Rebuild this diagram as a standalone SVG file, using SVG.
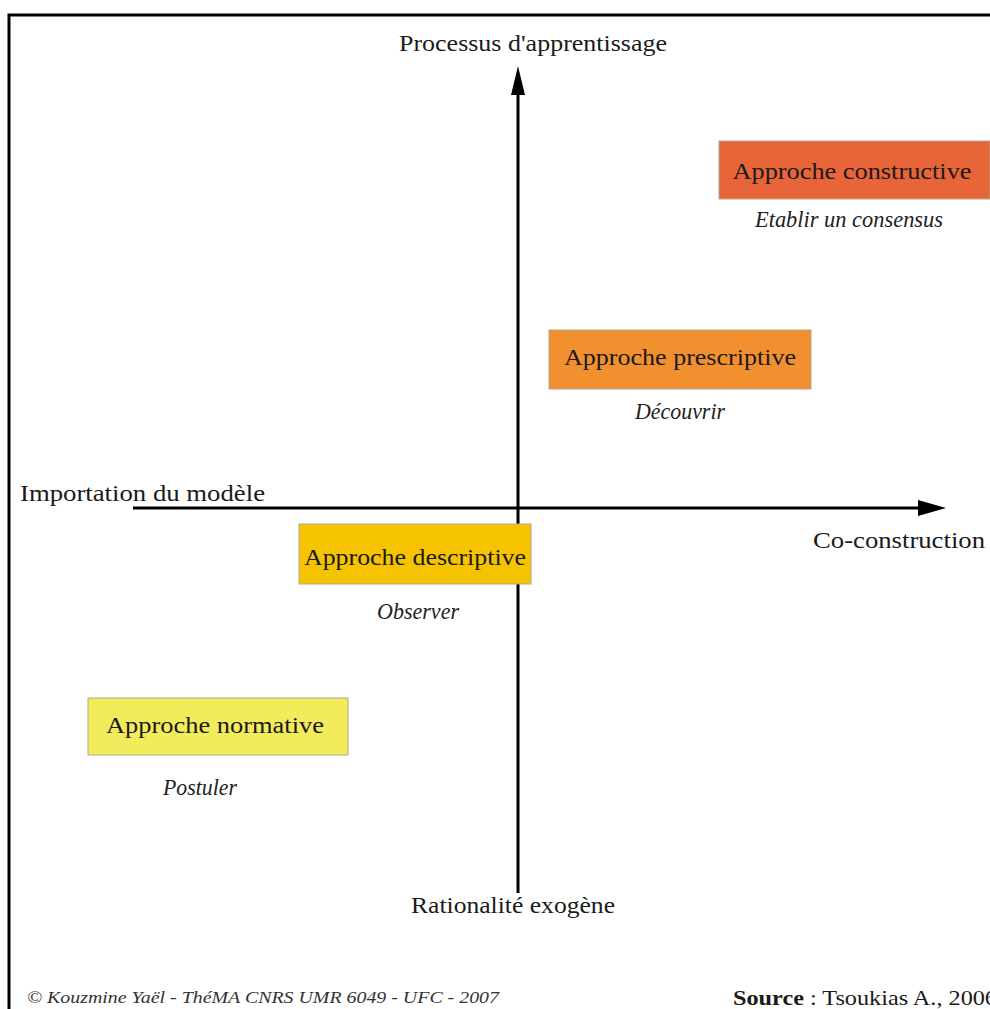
<svg xmlns="http://www.w3.org/2000/svg" width="990" height="1009" viewBox="0 0 990 1009">
<defs>
<style>
.t{font-family:"Liberation Serif","Times New Roman",serif;font-size:24px;fill:#1a1a1a}
.i{font-family:"Liberation Serif","Times New Roman",serif;font-size:23px;font-style:italic;fill:#222}
.box{stroke:#b0a890;stroke-width:1}
.ax{stroke:#000;stroke-width:3;fill:none}
</style>
</defs>
<rect x="0" y="0" width="990" height="1009" fill="#fff"/>
<path d="M9,1009 V15 H990" fill="none" stroke="#000" stroke-width="3"/>
<g id="connectors">
<line x1="518" y1="893" x2="518" y2="95" class="ax"/>
<path d="M518,66 L511,95 L525,95 z" fill="#000"/>
<line x1="133" y1="508" x2="918" y2="508" class="ax"/>
<path d="M946,508 L918,500 L918,516 z" fill="#000"/>
</g>
<g id="axis-labels">
<text class="t" x="533" y="51" text-anchor="middle" textLength="268" lengthAdjust="spacingAndGlyphs">Processus d'apprentissage</text>
<text class="t" x="20" y="501" textLength="245" lengthAdjust="spacingAndGlyphs">Importation du modèle</text>
<text class="t" x="813" y="548" textLength="172" lengthAdjust="spacingAndGlyphs">Co-construction</text>
<text class="t" x="513" y="913" text-anchor="middle" textLength="204" lengthAdjust="spacingAndGlyphs">Rationalité exogène</text>
</g>
<g id="constructive">
<rect class="box" x="719" y="141" width="271" height="58" fill="#E8653A"/>
<text class="t" x="852" y="179" text-anchor="middle" textLength="239" lengthAdjust="spacingAndGlyphs">Approche constructive</text>
<text class="i" x="849" y="227" text-anchor="middle" textLength="188" lengthAdjust="spacingAndGlyphs">Etablir un consensus</text>
</g>
<g id="prescriptive">
<rect class="box" x="549" y="330" width="262" height="59" fill="#F2902F"/>
<text class="t" x="680" y="365" text-anchor="middle" textLength="232" lengthAdjust="spacingAndGlyphs">Approche prescriptive</text>
<text class="i" x="680" y="419" text-anchor="middle" textLength="90" lengthAdjust="spacingAndGlyphs">Découvrir</text>
</g>
<g id="descriptive">
<rect class="box" x="299" y="524" width="232" height="60" fill="#F6C300"/>
<text class="t" x="415" y="565" text-anchor="middle" textLength="222" lengthAdjust="spacingAndGlyphs">Approche descriptive</text>
<text class="i" x="418" y="619" text-anchor="middle" textLength="82" lengthAdjust="spacingAndGlyphs">Observer</text>
</g>
<g id="normative">
<rect class="box" x="88" y="698" width="260" height="57" fill="#F2EC5C"/>
<text class="t" x="215" y="733" text-anchor="middle" textLength="218" lengthAdjust="spacingAndGlyphs">Approche normative</text>
<text class="i" x="200" y="795" text-anchor="middle" textLength="74" lengthAdjust="spacingAndGlyphs">Postuler</text>
</g>
<g id="footer">
<text x="27" y="1003" style="font-family:'Liberation Serif','Times New Roman',serif;font-size:17px;font-style:italic;fill:#333" textLength="472" lengthAdjust="spacingAndGlyphs">© Kouzmine Yaël - ThéMA CNRS UMR 6049 - UFC - 2007</text>
<text x="733" y="1005" style="font-family:'Liberation Serif','Times New Roman',serif;font-size:21px;fill:#1a1a1a" textLength="264" lengthAdjust="spacingAndGlyphs"><tspan font-weight="bold">Source</tspan> : Tsoukias A., 2006</text>
</g>
</svg>
